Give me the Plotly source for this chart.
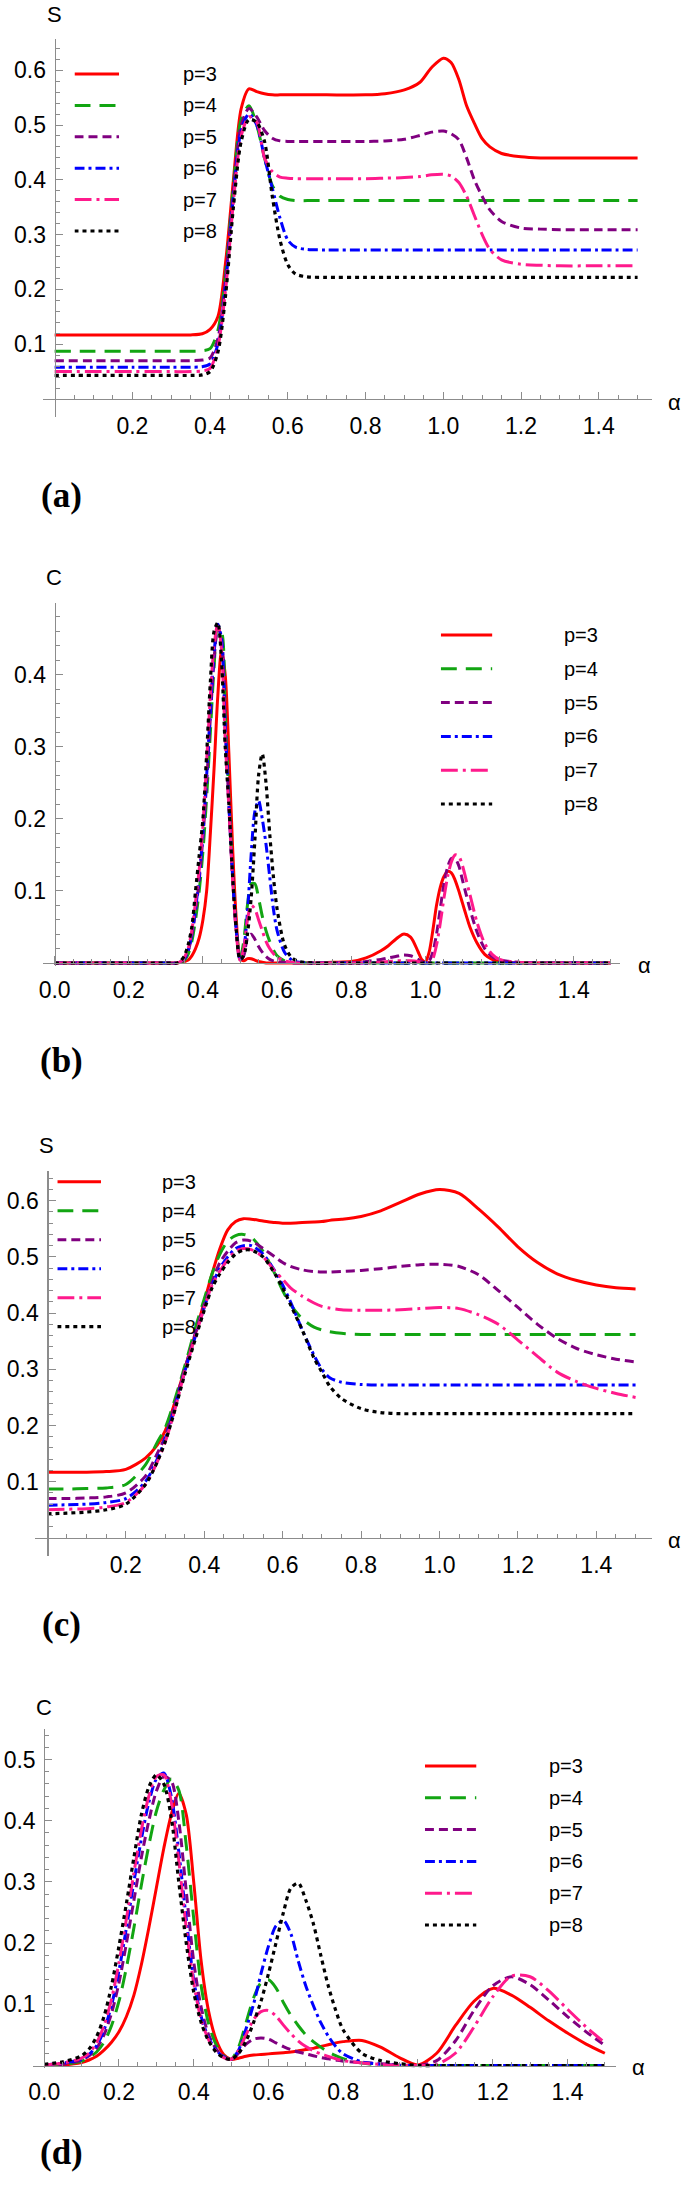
import numpy as np
import plotly.graph_objects as go

W, H = 685, 2211

# ---------------- data ----------------
# Panel (a): S vs alpha
A_X = [0, 0.1, 0.2, 0.3, 0.35, 0.38, 0.40, 0.42, 0.44, 0.46,
       0.48, 0.50, 0.52, 0.54, 0.56, 0.58, 0.60, 0.62, 0.65, 0.70,
       0.80, 0.85, 0.90, 0.94, 0.97, 1.00, 1.02, 1.04, 1.06, 1.08,
       1.10, 1.12, 1.15, 1.20, 1.25, 1.30, 1.40, 1.50]
A_P3 = [0.117, 0.117, 0.117, 0.117, 0.117, 0.119, 0.127, 0.15, 0.25, 0.40,
        0.53, 0.566, 0.561, 0.557, 0.555, 0.555, 0.555, 0.555, 0.555, 0.555,
        0.555, 0.557, 0.564, 0.578, 0.605, 0.622, 0.614, 0.583, 0.535, 0.503,
        0.475, 0.46, 0.448, 0.442, 0.44, 0.44, 0.44, 0.44]
A_P4 = [0.087, 0.087, 0.087, 0.087, 0.087, 0.088, 0.092, 0.125, 0.23, 0.39,
        0.51, 0.535, 0.50, 0.44, 0.39, 0.37, 0.364, 0.362, 0.362, 0.362,
        0.362, 0.362, 0.362, 0.362, 0.362, 0.362, 0.362, 0.362, 0.362, 0.362,
        0.362, 0.362, 0.362, 0.362, 0.362, 0.362, 0.362, 0.362]
A_P5 = [0.070, 0.070, 0.070, 0.070, 0.070, 0.071, 0.075, 0.11, 0.22, 0.38,
        0.50, 0.53, 0.515, 0.49, 0.476, 0.471, 0.470, 0.470, 0.470, 0.470,
        0.470, 0.471, 0.474, 0.481, 0.487, 0.489, 0.484, 0.473, 0.44, 0.40,
        0.37, 0.345, 0.324, 0.312, 0.31, 0.309, 0.309, 0.309]
A_P6 = [0.058, 0.058, 0.058, 0.058, 0.058, 0.059, 0.064, 0.10, 0.21, 0.37,
        0.49, 0.52, 0.50, 0.44, 0.385, 0.33, 0.29, 0.277, 0.273, 0.272,
        0.272, 0.272, 0.272, 0.272, 0.272, 0.272, 0.272, 0.272, 0.272, 0.272,
        0.272, 0.272, 0.272, 0.272, 0.272, 0.272, 0.272, 0.272]
A_P7 = [0.050, 0.050, 0.050, 0.050, 0.050, 0.051, 0.056, 0.095, 0.20, 0.36,
        0.48, 0.515, 0.505, 0.44, 0.415, 0.405, 0.403, 0.402, 0.402, 0.402,
        0.402, 0.403, 0.404, 0.406, 0.409, 0.41, 0.407, 0.395, 0.37, 0.335,
        0.30, 0.273, 0.254, 0.246, 0.244, 0.243, 0.243, 0.243]
A_P8 = [0.043, 0.043, 0.043, 0.043, 0.043, 0.044, 0.05, 0.085, 0.19, 0.35,
        0.47, 0.51, 0.505, 0.47, 0.37, 0.29, 0.245, 0.228, 0.223, 0.222,
        0.222, 0.222, 0.222, 0.222, 0.222, 0.222, 0.222, 0.222, 0.222, 0.222,
        0.222, 0.222, 0.222, 0.222, 0.222, 0.222, 0.222, 0.222]

# Panel (b): C vs alpha
B_X = [0, 0.1, 0.2, 0.3, 0.33, 0.34, 0.35, 0.36, 0.37, 0.38,
       0.39, 0.40, 0.41, 0.42, 0.43, 0.44, 0.45, 0.46, 0.47, 0.48,
       0.49, 0.50, 0.51, 0.52, 0.53, 0.54, 0.55, 0.56, 0.57, 0.58,
       0.59, 0.60, 0.62, 0.64, 0.66, 0.70, 0.75, 0.80, 0.84, 0.88,
       0.90, 0.92, 0.94, 0.96, 0.98, 0.99, 1.00, 1.01, 1.02, 1.03,
       1.04, 1.05, 1.06, 1.07, 1.08, 1.09, 1.10, 1.11, 1.12, 1.14,
       1.16, 1.18, 1.20, 1.25, 1.30, 1.40, 1.50]
B_P3 = [0, 0, 0, 0, 0, 0.001, 0.002, 0.004, 0.01, 0.02,
        0.035, 0.06, 0.10, 0.18, 0.27, 0.37, 0.433, 0.40, 0.29, 0.16,
        0.06, 0.008, 0.003, 0.006, 0.006, 0.004, 0.002, 0.001, 0, 0,
        0, 0, 0, 0, 0, 0, 0.001, 0.002, 0.007, 0.017,
        0.024, 0.033, 0.04, 0.036, 0.016, 0.005, 0.002, 0.015, 0.045, 0.08,
        0.105, 0.12, 0.127, 0.125, 0.115, 0.10, 0.083, 0.066, 0.05, 0.027,
        0.012, 0.005, 0.002, 0, 0, 0, 0]
B_P4 = [0, 0, 0, 0, 0, 0.001, 0.004, 0.012, 0.03, 0.06,
        0.10, 0.155, 0.23, 0.32, 0.41, 0.465, 0.46, 0.35, 0.23, 0.125,
        0.048, 0.005, 0.03, 0.08, 0.11, 0.11, 0.09, 0.065, 0.045, 0.03,
        0.018, 0.01, 0.003, 0.001, 0, 0, 0, 0, 0, 0,
        0, 0, 0, 0, 0, 0, 0, 0, 0, 0,
        0, 0, 0, 0, 0, 0, 0, 0, 0, 0,
        0, 0, 0, 0, 0, 0, 0]
B_P5 = [0, 0, 0, 0, 0, 0.002, 0.006, 0.016, 0.038, 0.072,
        0.115, 0.175, 0.25, 0.34, 0.42, 0.465, 0.45, 0.33, 0.22, 0.12,
        0.045, 0.005, 0.01, 0.035, 0.04, 0.033, 0.023, 0.015, 0.009, 0.005,
        0.003, 0.002, 0.001, 0, 0, 0, 0, 0.0005, 0.002, 0.005,
        0.007, 0.009, 0.011, 0.01, 0.005, 0.002, 0.0, 0.003, 0.015, 0.04,
        0.075, 0.11, 0.133, 0.145, 0.145, 0.135, 0.115, 0.095, 0.075, 0.042,
        0.02, 0.009, 0.004, 0.001, 0, 0, 0]
B_P6 = [0, 0, 0, 0, 0, 0.002, 0.006, 0.017, 0.04, 0.075,
        0.12, 0.18, 0.26, 0.35, 0.43, 0.47, 0.45, 0.33, 0.22, 0.12,
        0.045, 0.005, 0.02, 0.07, 0.15, 0.21, 0.225, 0.20, 0.165, 0.12,
        0.075, 0.045, 0.015, 0.004, 0.001, 0, 0, 0, 0, 0,
        0, 0, 0, 0, 0, 0, 0, 0, 0, 0,
        0, 0, 0, 0, 0, 0, 0, 0, 0, 0,
        0, 0, 0, 0, 0, 0, 0]
B_P7 = [0, 0, 0, 0, 0, 0.002, 0.008, 0.02, 0.045, 0.085,
        0.13, 0.19, 0.28, 0.37, 0.44, 0.47, 0.435, 0.31, 0.215, 0.115,
        0.04, 0.004, 0.02, 0.06, 0.08, 0.075, 0.06, 0.045, 0.03, 0.02,
        0.013, 0.008, 0.003, 0.001, 0, 0, 0, 0, 0, 0.001,
        0.002, 0.003, 0.003, 0.003, 0.002, 0.001, 0, 0.001, 0.006, 0.025,
        0.055, 0.09, 0.12, 0.14, 0.15, 0.148, 0.135, 0.115, 0.095, 0.055,
        0.027, 0.012, 0.005, 0.001, 0, 0, 0]
B_P8 = [0, 0, 0, 0, 0, 0.003, 0.01, 0.025, 0.05, 0.10,
        0.15, 0.20, 0.29, 0.39, 0.46, 0.472, 0.42, 0.30, 0.22, 0.12,
        0.045, 0.005, 0.01, 0.04, 0.09, 0.17, 0.26, 0.29, 0.25, 0.18,
        0.12, 0.075, 0.025, 0.007, 0.002, 0, 0, 0, 0, 0,
        0, 0, 0, 0, 0, 0, 0, 0, 0, 0,
        0, 0, 0, 0, 0, 0, 0, 0, 0, 0,
        0, 0, 0, 0, 0, 0, 0]

# Panel (c): S vs alpha
C_X = [0, 0.05, 0.1, 0.15, 0.2, 0.25, 0.28, 0.30, 0.32, 0.35,
       0.38, 0.40, 0.42, 0.44, 0.46, 0.48, 0.50, 0.52, 0.55, 0.58,
       0.60, 0.62, 0.65, 0.68, 0.70, 0.72, 0.75, 0.80, 0.85, 0.90,
       0.95, 1.00, 1.05, 1.10, 1.15, 1.20, 1.25, 1.30, 1.35, 1.40,
       1.45, 1.50]
C_P3 = [0.117, 0.117, 0.117, 0.118, 0.122, 0.142, 0.165, 0.19, 0.23, 0.30,
        0.37, 0.42, 0.47, 0.515, 0.548, 0.563, 0.568, 0.567, 0.564, 0.561,
        0.56, 0.56, 0.561, 0.562, 0.563, 0.565, 0.567, 0.572, 0.582, 0.597,
        0.612, 0.62, 0.613, 0.585, 0.553, 0.518, 0.49, 0.47, 0.458, 0.45,
        0.445, 0.443]
C_P4 = [0.087, 0.087, 0.088, 0.089, 0.095, 0.13, 0.17, 0.195, 0.235, 0.305,
        0.38, 0.425, 0.47, 0.505, 0.528, 0.538, 0.54, 0.535, 0.51, 0.47,
        0.44, 0.415, 0.39, 0.375, 0.37, 0.367, 0.364, 0.362, 0.362, 0.362,
        0.362, 0.362, 0.362, 0.362, 0.362, 0.362, 0.362, 0.362, 0.362, 0.362,
        0.362, 0.362]
C_P5 = [0.070, 0.070, 0.071, 0.073, 0.08, 0.11, 0.15, 0.18, 0.225, 0.30,
        0.37, 0.415, 0.455, 0.49, 0.51, 0.525, 0.53, 0.528, 0.515, 0.50,
        0.49, 0.483, 0.477, 0.474, 0.473, 0.473, 0.474, 0.476, 0.479, 0.483,
        0.486, 0.487, 0.483, 0.468, 0.44, 0.41, 0.38, 0.355, 0.337, 0.326,
        0.318, 0.313]
C_P6 = [0.058, 0.059, 0.06, 0.063, 0.07, 0.10, 0.14, 0.175, 0.22, 0.295,
        0.365, 0.41, 0.45, 0.48, 0.50, 0.515, 0.52, 0.52, 0.505, 0.475,
        0.45, 0.42, 0.37, 0.325, 0.30, 0.285, 0.277, 0.273, 0.272, 0.272,
        0.272, 0.272, 0.272, 0.272, 0.272, 0.272, 0.272, 0.272, 0.272, 0.272,
        0.272, 0.272]
C_P7 = [0.050, 0.051, 0.052, 0.055, 0.063, 0.095, 0.135, 0.17, 0.215, 0.295,
        0.365, 0.41, 0.45, 0.475, 0.495, 0.51, 0.515, 0.513, 0.50, 0.475,
        0.46, 0.445, 0.43, 0.418, 0.412, 0.409, 0.406, 0.405, 0.405, 0.406,
        0.408, 0.41, 0.408, 0.397, 0.38, 0.352, 0.323, 0.295, 0.278, 0.266,
        0.257, 0.25]
C_P8 = [0.043, 0.044, 0.046, 0.05, 0.06, 0.095, 0.135, 0.17, 0.215, 0.29,
        0.36, 0.405, 0.445, 0.47, 0.49, 0.505, 0.512, 0.512, 0.50, 0.47,
        0.445, 0.415, 0.37, 0.32, 0.295, 0.27, 0.248, 0.23, 0.223, 0.221,
        0.221, 0.221, 0.221, 0.221, 0.221, 0.221, 0.221, 0.221, 0.221, 0.221,
        0.221, 0.221]

# Panel (d): C vs alpha
D_X = [0, 0.05, 0.1, 0.12, 0.14, 0.16, 0.18, 0.20, 0.22, 0.24,
       0.26, 0.28, 0.30, 0.32, 0.34, 0.36, 0.38, 0.40, 0.42, 0.44,
       0.46, 0.48, 0.50, 0.52, 0.54, 0.56, 0.58, 0.60, 0.62, 0.64,
       0.66, 0.68, 0.70, 0.72, 0.74, 0.76, 0.78, 0.80, 0.85, 0.90,
       0.95, 1.00, 1.05, 1.10, 1.15, 1.20, 1.25, 1.30, 1.35, 1.40,
       1.45, 1.50]
D_P3 = [0.0, 0.001, 0.005, 0.009, 0.015, 0.025, 0.038, 0.055, 0.08, 0.115,
        0.165, 0.225, 0.29, 0.355, 0.41, 0.445, 0.41, 0.30, 0.17, 0.088,
        0.042, 0.018, 0.01, 0.012, 0.015, 0.017, 0.018, 0.019, 0.02, 0.021,
        0.022, 0.024, 0.026, 0.028, 0.031, 0.034, 0.037, 0.039, 0.041, 0.03,
        0.013, 0.001, 0.02, 0.065, 0.105, 0.126, 0.115, 0.095, 0.073, 0.053,
        0.035, 0.02]
D_P4 = [0.0, 0.002, 0.007, 0.013, 0.022, 0.038, 0.065, 0.105, 0.16, 0.225,
        0.295, 0.36, 0.415, 0.45, 0.468, 0.45, 0.36, 0.24, 0.13, 0.068,
        0.034, 0.016, 0.01, 0.03, 0.07, 0.11, 0.135, 0.14, 0.127, 0.103,
        0.082, 0.065, 0.05, 0.039, 0.03, 0.022, 0.016, 0.011, 0.004, 0.001,
        0, 0, 0, 0, 0, 0, 0, 0, 0, 0,
        0, 0]
D_P5 = [0.0, 0.002, 0.009, 0.016, 0.028, 0.05, 0.085, 0.135, 0.20, 0.27,
        0.34, 0.40, 0.448, 0.472, 0.465, 0.40, 0.285, 0.17, 0.095, 0.05,
        0.027, 0.015, 0.01, 0.02, 0.035, 0.043, 0.045, 0.043, 0.037, 0.031,
        0.026, 0.022, 0.019, 0.016, 0.013, 0.011, 0.009, 0.007, 0.005, 0.003,
        0.001, 0.0, 0.008, 0.04, 0.09, 0.13, 0.145, 0.132, 0.107, 0.08,
        0.055, 0.033]
D_P6 = [0.001, 0.004, 0.01, 0.018, 0.032, 0.058, 0.098, 0.155, 0.225, 0.30,
        0.37, 0.43, 0.468, 0.478, 0.44, 0.35, 0.24, 0.14, 0.08, 0.045,
        0.025, 0.014, 0.01, 0.025, 0.06, 0.10, 0.15, 0.195, 0.228, 0.237,
        0.215, 0.17, 0.13, 0.098, 0.07, 0.048, 0.031, 0.019, 0.006, 0.002,
        0, 0, 0, 0, 0, 0, 0, 0, 0, 0,
        0, 0]
D_P7 = [0.001, 0.004, 0.012, 0.02, 0.037, 0.065, 0.108, 0.168, 0.24, 0.315,
        0.385, 0.44, 0.472, 0.475, 0.43, 0.335, 0.225, 0.135, 0.075, 0.042,
        0.023, 0.013, 0.01, 0.025, 0.05, 0.075, 0.088, 0.09, 0.081, 0.066,
        0.052, 0.04, 0.031, 0.024, 0.019, 0.015, 0.011, 0.008, 0.004, 0.002,
        0.0, 0.0, 0.002, 0.02, 0.063, 0.112, 0.146, 0.145, 0.122, 0.092,
        0.063, 0.037]
D_P8 = [0.002, 0.006, 0.016, 0.027, 0.047, 0.08, 0.13, 0.195, 0.265, 0.34,
        0.41, 0.455, 0.475, 0.46, 0.405, 0.30, 0.20, 0.12, 0.07, 0.04,
        0.022, 0.013, 0.01, 0.02, 0.04, 0.07, 0.105, 0.15, 0.20, 0.25,
        0.29, 0.298, 0.27, 0.232, 0.18, 0.13, 0.09, 0.058, 0.02, 0.008,
        0.003, 0.0, 0, 0, 0, 0, 0, 0, 0, 0,
        0, 0]

P_LABELS = ["p=3", "p=4", "p=5", "p=6", "p=7", "p=8"]
X_TICKS_NO0 = [0.2, 0.4, 0.6, 0.8, 1.0, 1.2, 1.4]
X_TICKS_0 = [0.0, 0.2, 0.4, 0.6, 0.8, 1.0, 1.2, 1.4]
Y_TICKS_S = [0.1, 0.2, 0.3, 0.4, 0.5, 0.6]
Y_TICKS_C = [0.1, 0.2, 0.3, 0.4, 0.5]

# ---------------- styles ----------------
COLORS = ["#ff0000", "#12a512", "#800080", "#0000ff", "#ff1a8c", "#000000"]
DASHES = ["solid", "16px,9px", "9px,5px", "10px,4px,3px,4px", "17px,5px,3px,5px", "4px,4px"]
WIDTHS = [3.0, 3.0, 3.0, 3.0, 3.0, 3.2]
AXC = "#8c8c8c"
FONT = "Liberation Sans"
SERIF = "Liberation Serif"

PANELS = [
    dict(x=A_X, ys=[A_P3, A_P4, A_P5, A_P6, A_P7, A_P8], ylab="S",
         ox=50, sx=391.5, xlo=-0.0307, xhi=1.537, oy=399, sy=548, ylo=-0.033, yhi=0.657,
         xt=X_TICKS_NO0, yt=Y_TICKS_S, ylabpos=(50, 15), apos=(674, 402),
         leg=(70, 115, 177, 74, 31.4), tag="(a)", tagpos=(57, 496)),
    dict(x=B_X, ys=[B_P3, B_P4, B_P5, B_P6, B_P7, B_P8], ylab="C",
         ox=50, sx=373.5, xlo=-0.032, xhi=1.526, oy=963, sy=721, ylo=-0.004, yhi=0.4997,
         xt=X_TICKS_0, yt=Y_TICKS_C, ylabpos=(49, 578), apos=(644, 965),
         leg=(439, 491, 561, 635, 33.8), tag="(b)", tagpos=(57, 1061)),
    dict(x=C_X, ys=[C_P3, C_P4, C_P5, C_P6, C_P7, C_P8], ylab="S",
         ox=42.7, sx=395, xlo=-0.032, xhi=1.541, oy=1537.9, sy=562, ylo=-0.033, yhi=0.6525,
         xt=X_TICKS_NO0, yt=Y_TICKS_S, ylabpos=(42, 1145), apos=(674, 1540),
         leg=(52.7, 96.7, 156, 1181.7, 29), tag="(c)", tagpos=(57, 1624)),
    dict(x=D_X, ys=[D_P3, D_P4, D_P5, D_P6, D_P7, D_P8], ylab="C",
         ox=39.5, sx=376.5, xlo=-0.0305, xhi=1.53, oy=2065.5, sy=612, ylo=-0.004, yhi=0.55,
         xt=X_TICKS_0, yt=Y_TICKS_C, ylabpos=(39, 1707), apos=(638, 2067),
         leg=(423, 475, 546, 1766, 31.8), tag="(d)", tagpos=(57, 2152)),
]


def px_x(px):
    return px / W


def px_y(py):
    return 1 - py / H


fig = go.Figure()
layout = {}
annotations = []

for k, P in enumerate(PANELS):
    n = k + 1
    xa = "x" if n == 1 else f"x{n}"
    ya = "y" if n == 1 else f"y{n}"
    for i in range(6):
        fig.add_trace(go.Scatter(
            x=P["x"], y=P["ys"][i], xaxis=xa, yaxis=ya, mode="lines",
            line=dict(color=COLORS[i], width=WIDTHS[i], dash=DASHES[i],
                      shape="spline", smoothing=0.8),
            name=P_LABELS[i], showlegend=False, hoverinfo="skip"))

    ox, sx, oy, sy = P["ox"], P["sx"], P["oy"], P["sy"]
    xdom = [px_x(ox + P["xlo"] * sx), px_x(ox + P["xhi"] * sx)]
    ydom = [px_y(oy - P["ylo"] * sy), px_y(oy - P["yhi"] * sy)]
    xkey = "xaxis" if n == 1 else f"xaxis{n}"
    ykey = "yaxis" if n == 1 else f"yaxis{n}"
    xminor = [round(v, 3) for v in np.arange(0.05, P["xhi"], 0.05)]
    yminor = [round(v, 3) for v in np.arange(0.02, P["yhi"], 0.02)]
    layout[xkey] = dict(
        domain=xdom, range=[P["xlo"], P["xhi"]], anchor="free", position=px_y(oy),
        showline=True, linecolor=AXC, linewidth=1.2, showgrid=False, zeroline=False,
        ticks="inside", ticklen=7, tickwidth=1, tickcolor=AXC,
        tickmode="array", tickvals=P["xt"], ticktext=[f"{v:.1f}" for v in P["xt"]],
        tickfont=dict(size=23, color="black", family=FONT), ticklabelstandoff=6,
        minor=dict(ticks="inside", ticklen=4, tickwidth=1, tickcolor=AXC,
                   tickmode="array", tickvals=xminor, showgrid=False),
        fixedrange=True)
    layout[ykey] = dict(
        domain=ydom, range=[P["ylo"], P["yhi"]], anchor="free", position=px_x(ox),
        showline=True, linecolor=AXC, linewidth=1.2, showgrid=False, zeroline=False,
        ticks="inside", ticklen=7, tickwidth=1, tickcolor=AXC,
        tickmode="array", tickvals=P["yt"], ticktext=[f"{v:.1f}" for v in P["yt"]],
        tickfont=dict(size=23, color="black", family=FONT), ticklabelstandoff=4,
        minor=dict(ticks="inside", ticklen=4, tickwidth=1, tickcolor=AXC,
                   tickmode="array", tickvals=yminor, showgrid=False),
        fixedrange=True)

    # legend (sample lines on a small hidden axis + text labels)
    lx0, lx1, ltx, ly0, lsp = P["leg"]
    pad = 8
    m = 4 + n
    top = ly0 - pad
    bot = ly0 + 5 * lsp + pad
    layout[f"xaxis{m}"] = dict(domain=[px_x(lx0), px_x(lx1)], range=[0, 1], visible=False,
                               fixedrange=True, anchor=f"y{m}")
    layout[f"yaxis{m}"] = dict(domain=[px_y(bot), px_y(top)], range=[5 + pad / lsp, -pad / lsp],
                               visible=False, fixedrange=True, anchor=f"x{m}")
    for i in range(6):
        fig.add_trace(go.Scatter(
            x=[0, 1], y=[i, i], xaxis=f"x{m}", yaxis=f"y{m}", mode="lines",
            line=dict(color=COLORS[i], width=WIDTHS[i], dash=DASHES[i]),
            showlegend=False, hoverinfo="skip"))
        annotations.append(dict(
            x=px_x(ltx), y=px_y(ly0 + i * lsp), xref="paper", yref="paper",
            text=P_LABELS[i], showarrow=False, xanchor="left", yanchor="middle",
            font=dict(size=20, family=FONT, color="black")))

    annotations.append(dict(
        x=px_x(P["ylabpos"][0]), y=px_y(P["ylabpos"][1]), xref="paper", yref="paper",
        text=P["ylab"], showarrow=False, xanchor="center", yanchor="middle",
        font=dict(size=22, family=FONT, color="black")))
    annotations.append(dict(
        x=px_x(P["apos"][0]), y=px_y(P["apos"][1]), xref="paper", yref="paper",
        text="α", showarrow=False, xanchor="center", yanchor="middle",
        font=dict(size=22, family=FONT, color="black")))
    annotations.append(dict(
        x=px_x(P["tagpos"][0]), y=px_y(P["tagpos"][1]), xref="paper", yref="paper",
        text="<b>" + P["tag"] + "</b>", showarrow=False, xanchor="center", yanchor="middle",
        font=dict(size=35, family=SERIF, color="black")))

fig.update_layout(
    width=W, height=H, margin=dict(l=0, r=0, t=0, b=0),
    paper_bgcolor="white", plot_bgcolor="rgba(0,0,0,0)",
    showlegend=False, annotations=annotations,
    font=dict(family=FONT, color="black"),
    **layout)

fig.write_html("out.html", config={"displayModeBar": False, "staticPlot": True},
               post_script="document.body.style.margin='0px';document.body.style.padding='0px';")
